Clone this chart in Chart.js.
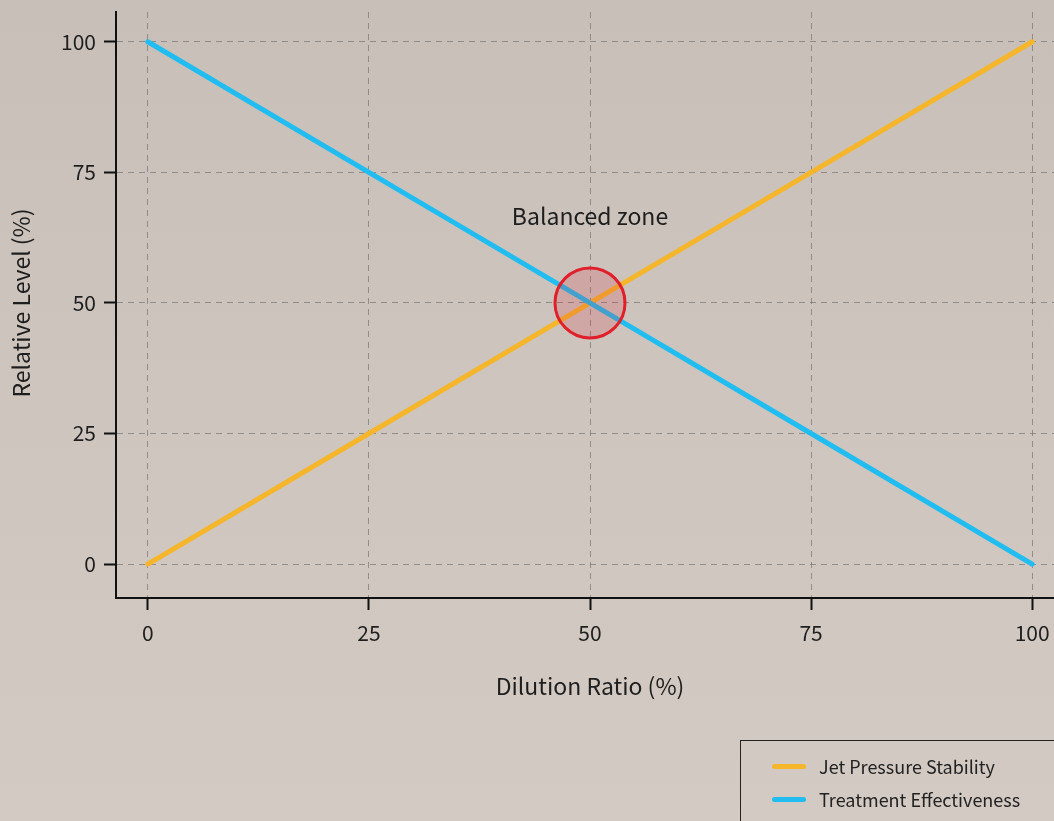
<!DOCTYPE html>
<html>
<head>
<meta charset="utf-8">
<script src="https://cdn.jsdelivr.net/npm/chart.js@4.4.1/dist/chart.umd.min.js"></script>
<style>
  html, body { margin: 0; padding: 0; width: 1054px; height: 821px; overflow: hidden; }
  body { background: linear-gradient(180deg, #c8bfb9 0%, #cdc5be 50%, #d3cac3 100%); font-family: "Noto Sans CJK KR", "Noto Sans", sans-serif; }
  #wrap { position: absolute; left: 0; top: 0; width: 1064px; height: 821px; }
  #legend { position: absolute; left: 740px; top: 740px; width: 340px; height: 120px; border: 1.5px solid #222; box-sizing: border-box; }
  #legend .row { position: absolute; left: 31px; height: 22px; display: flex; align-items: center; font-size: 18px; color: #222; }
  #legend .sw { width: 34px; height: 5px; border-radius: 3px; margin-right: 13px; }
</style>
</head>
<body>
<div id="wrap"><canvas id="c"></canvas></div>
<div id="legend"></div>
<script>
const dilution = [0, 25, 50, 75, 100];
const jetPressure = [0, 25, 50, 75, 100];
const treatment = [100, 75, 50, 25, 0];
const xTicks = [0, 25, 50, 75, 100];
const yTicks = [0, 25, 50, 75, 100];
const seriesNames = ["Jet Pressure Stability", "Treatment Effectiveness"];
const seriesColors = ["#f5b62b", "#22bdf0"];
const balanced = { x: 50, y: 50, label: "Balanced zone", labelY: 66.5 };

const font = '"Noto Sans CJK KR", "Noto Sans", sans-serif';

const overlay = {
  id: "overlay",
  afterDatasetsDraw(chart) {
    const { ctx, scales } = chart;
    const cx = scales.x.getPixelForValue(balanced.x);
    const cy = scales.y.getPixelForValue(balanced.y);
    ctx.save();
    ctx.beginPath();
    ctx.arc(cx, cy, 35, 0, Math.PI * 2);
    ctx.fillStyle = "rgba(222, 40, 50, 0.18)";
    ctx.fill();
    ctx.lineWidth = 3;
    ctx.strokeStyle = "#e01f2b";
    ctx.stroke();
    ctx.fillStyle = "#1e1e1e";
    ctx.font = "23px " + font;
    ctx.textAlign = "center";
    ctx.textBaseline = "middle";
    ctx.fillText(balanced.label, cx, scales.y.getPixelForValue(balanced.labelY));
    // axis titles
    ctx.fillText("Dilution Ratio (%)", cx, 686);
    ctx.translate(21, 303);
    ctx.rotate(-Math.PI / 2);
    ctx.fillText("Relative Level (%)", 0, 0);
    ctx.restore();
  }
};

const gridOpts = {
  color: "rgba(110, 110, 110, 0.65)",
  lineWidth: 1,
  tickColor: "#111",
  tickLength: 12,
  tickWidth: 2
};
const borderOpts = { color: "#111", width: 2, dash: [6, 5] };

new Chart(document.getElementById("c").getContext("2d"), {
  type: "line",
  data: {
    labels: dilution,
    datasets: [
      { label: seriesNames[0], data: dilution.map((d, i) => ({ x: d, y: jetPressure[i] })), borderColor: seriesColors[0], borderWidth: 5, pointRadius: 0, borderCapStyle: "round", order: 1 },
      { label: seriesNames[1], data: dilution.map((d, i) => ({ x: d, y: treatment[i] })), borderColor: seriesColors[1], borderWidth: 5, pointRadius: 0, borderCapStyle: "round", order: 0 }
    ]
  },
  options: {
    responsive: true,
    maintainAspectRatio: false,
    animation: false,
    layout: { padding: { top: 12, right: 0, left: 0, bottom: 0 } },
    plugins: { legend: { display: false }, tooltip: { enabled: false } },
    scales: {
      x: {
        type: "linear", min: -3.6, max: 103.6,
        afterBuildTicks: s => { s.ticks = xTicks.map(v => ({ value: v })); },
        afterFit: s => { s.height = 223; s.paddingLeft = 0; s.paddingRight = 0; },
        grid: gridOpts,
        border: borderOpts,
        ticks: { color: "#1e1e1e", font: { family: font, size: 21 }, padding: 10, maxRotation: 0 }
      },
      y: {
        type: "linear", min: -6.5, max: 105.7,
        afterBuildTicks: s => { s.ticks = yTicks.map(v => ({ value: v })); },
        afterFit: s => { s.width = 116; s.paddingTop = 0; s.paddingBottom = 0; },
        grid: gridOpts,
        border: borderOpts,
        ticks: { color: "#1e1e1e", font: { family: font, size: 21 }, padding: 8 }
      }
    }
  },
  plugins: [overlay]
});

const legend = document.getElementById("legend");
seriesNames.forEach((name, i) => {
  const row = document.createElement("div");
  row.className = "row";
  row.style.top = (14 + i * 33) + "px";
  row.innerHTML = '<span class="sw" style="background:' + seriesColors[i] + '"></span>' + name;
  legend.appendChild(row);
});
</script>
</body>
</html>
